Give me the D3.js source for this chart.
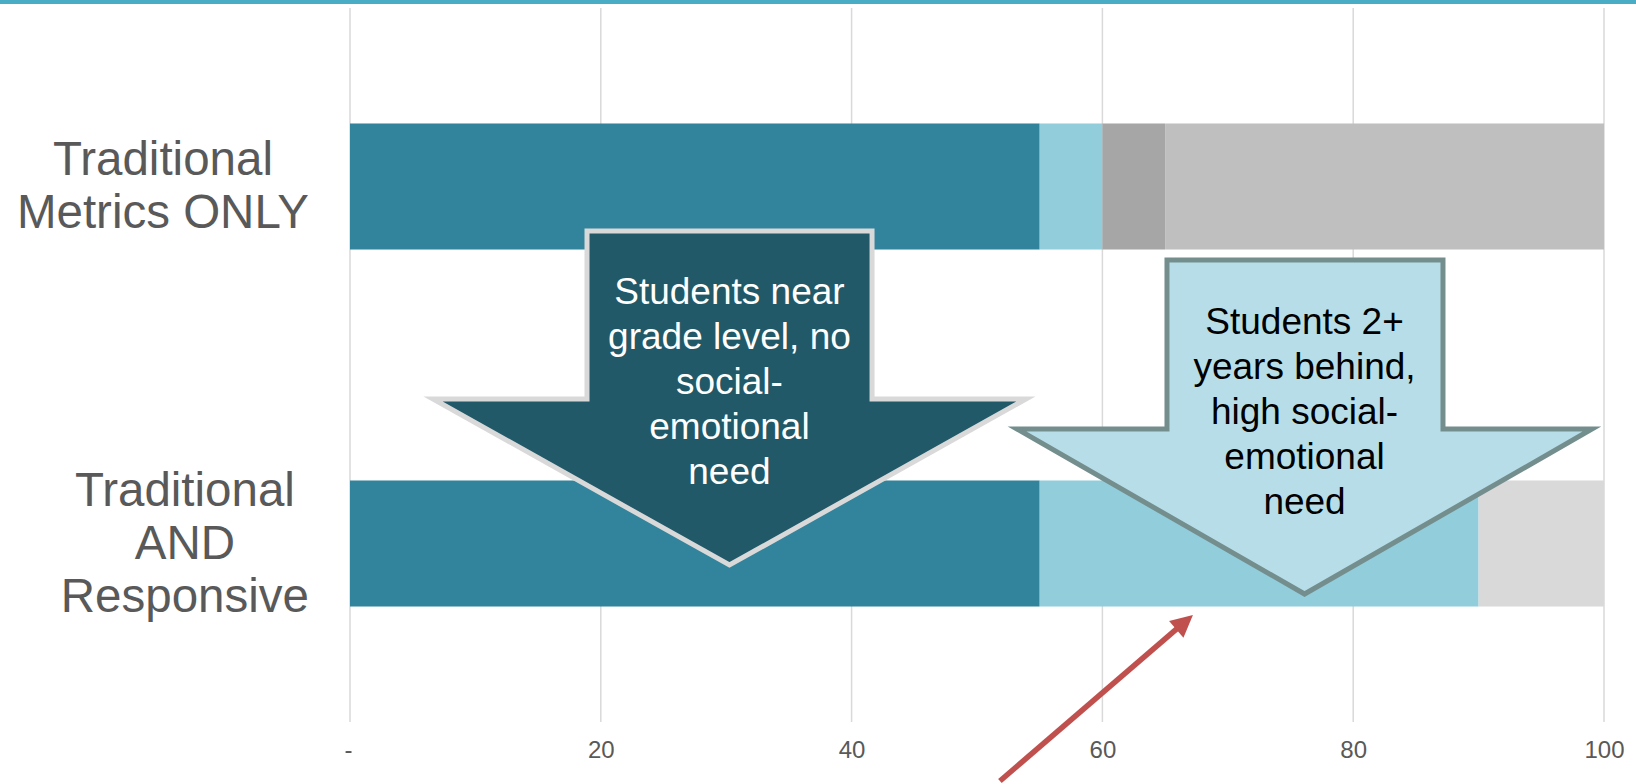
<!DOCTYPE html>
<html>
<head>
<meta charset="utf-8">
<script src="https://cdn.jsdelivr.net/npm/d3@7"></script>
<style>
  html, body { margin: 0; padding: 0; background: #ffffff; }
  svg { display: block; }
  text { font-family: "Liberation Sans", Arial, sans-serif; }
</style>
</head>
<body>
<svg id="chart" width="1636" height="784"></svg>
<script>
// ---- data ----
const categories = ["Traditional Metrics ONLY", "Traditional AND Responsive"];
const categoryLines = [["Traditional", "Metrics ONLY"], ["Traditional", "AND", "Responsive"]];
const seriesKeys = ["nearGrade", "identified", "flagged", "otherA", "otherB"];
const nearGrade  = [55, 55];
const identified = [5, 35];
const flagged    = [5, 0];
const otherA     = [35, 0];
const otherB     = [0, 10];
const seriesColors = ["#31849b", "#92cddc", "#a6a6a6", "#bfbfbf", "#d9d9d9"];
const tickValues = [0, 20, 40, 60, 80, 100];
const tickLabels = ["-", "20", "40", "60", "80", "100"];

const arrowTexts = [
  ["Students near", "grade level, no", "social-", "emotional", "need"],
  ["Students 2+", "years behind,", "high social-", "emotional", "need"]
];

// ---- layout ----
const W = 1636, H = 784;
const plot = { left: 350, right: 1604, top: 8, bottom: 722 };

const svg = d3.select("#chart");
svg.append("rect").attr("width", W).attr("height", H).attr("fill", "#ffffff");
// top accent band
svg.append("rect").attr("x", 0).attr("y", 0).attr("width", W).attr("height", 4).attr("fill", "#4bacc6");

const x = d3.scaleLinear().domain([0, 100]).range([plot.left, plot.right]);
const y = d3.scaleBand().domain(categories).range([plot.top, plot.bottom])
  .paddingInner(0.647).paddingOuter(0.647 / 2);

// gridlines
svg.append("g").selectAll("line").data(tickValues).join("line")
  .attr("x1", d => x(d)).attr("x2", d => x(d))
  .attr("y1", plot.top).attr("y2", plot.bottom)
  .attr("stroke", "#d9d9d9").attr("stroke-width", 1.5);

// stacked bars
const rows = categories.map((c, i) => ({
  cat: c, nearGrade: nearGrade[i], identified: identified[i],
  flagged: flagged[i], otherA: otherA[i], otherB: otherB[i]
}));
const stacked = d3.stack().keys(seriesKeys)(rows);
svg.append("g").selectAll("g").data(stacked).join("g")
  .attr("fill", (d, i) => seriesColors[i])
  .selectAll("rect").data(d => d).join("rect")
  .attr("x", d => x(d[0]))
  .attr("width", d => Math.max(0, x(d[1]) - x(d[0])))
  .attr("y", d => y(d.data.cat))
  .attr("height", y.bandwidth());

// x axis labels
const axis = d3.axisBottom(x).tickValues(tickValues)
  .tickFormat((d, i) => tickLabels[i]).tickSize(0).tickPadding(0);
const gx = svg.append("g").attr("transform", `translate(0,${plot.bottom})`).call(axis);
gx.select(".domain").remove();
gx.selectAll("text")
  .attr("y", 36).attr("dy", null)
  .attr("fill", "#595959").attr("font-size", 24)
  .attr("font-family", "'Liberation Sans', Arial, sans-serif")
  .attr("dx", (d) => d === 0 ? -2 : 0);

// category labels (block right-aligned, lines centred)
const labelFont = 47.5, labelLH = 53, labelRight = 309;
categories.forEach((c, i) => {
  const lines = categoryLines[i];
  const g = svg.append("g");
  const texts = g.selectAll("text").data(lines).join("text")
    .attr("font-size", labelFont).attr("fill", "#595959")
    .attr("text-anchor", "middle").text(d => d);
  let maxW = 0;
  texts.each(function () { maxW = Math.max(maxW, this.getComputedTextLength()); });
  const cx = labelRight - maxW / 2;
  const yc = y(c) + y.bandwidth() / 2 - 2;
  texts.attr("x", cx)
    .attr("y", (d, j) => yc + (j - (lines.length - 1) / 2) * labelLH + 0.358 * labelFont);
});

// block arrows (x in data units, y in px)
const blockArrows = [
  { shaft: [18.9, 41.63], head: [6.62, 53.9], tip: 30.26, top: 231, shoulder: 399, point: 565,
    fill: "#215968", stroke: "#d9d9d9", textColor: "#ffffff", firstBaseline: 303.5, lines: arrowTexts[0] },
  { shaft: [65.15, 87.16], head: [53.19, 99.04], tip: 76.12, top: 260, shoulder: 429, point: 594,
    fill: "#b7dee8", stroke: "#748e8e", textColor: "#000000", firstBaseline: 333.5, lines: arrowTexts[1] }
];
blockArrows.forEach(a => {
  const pts = [
    [x(a.shaft[0]), a.top], [x(a.shaft[1]), a.top], [x(a.shaft[1]), a.shoulder],
    [x(a.head[1]), a.shoulder], [x(a.tip), a.point], [x(a.head[0]), a.shoulder],
    [x(a.shaft[0]), a.shoulder]
  ];
  svg.append("path")
    .attr("d", d3.line()(pts) + "Z")
    .attr("fill", a.fill).attr("stroke", a.stroke).attr("stroke-width", 5)
    .attr("stroke-linejoin", "miter").attr("stroke-miterlimit", 10);
  svg.append("g").selectAll("text").data(a.lines).join("text")
    .attr("x", x(a.tip)).attr("y", (d, j) => a.firstBaseline + j * 45)
    .attr("text-anchor", "middle").attr("font-size", 37).attr("fill", a.textColor)
    .text(d => d);
});

// red pointer arrow
const pointer = { from: [51.83, 781], to: [67.22, 615] };
const p0 = [x(pointer.from[0]), pointer.from[1]];
const p1 = [x(pointer.to[0]), pointer.to[1]];
const dx = p1[0] - p0[0], dy = p1[1] - p0[1];
const len = Math.hypot(dx, dy);
const ux = dx / len, uy = dy / len, nx = -uy, ny = ux;
const headLen = 22, headHalf = 11;
const base = [p1[0] - headLen * ux, p1[1] - headLen * uy];
svg.append("line")
  .attr("x1", p0[0]).attr("y1", p0[1]).attr("x2", base[0] + ux).attr("y2", base[1] + uy)
  .attr("stroke", "#c0504d").attr("stroke-width", 5.5);
svg.append("path")
  .attr("d", d3.line()([p1, [base[0] + headHalf * nx, base[1] + headHalf * ny],
                        [base[0] - headHalf * nx, base[1] - headHalf * ny]]) + "Z")
  .attr("fill", "#c0504d");
</script>
</body>
</html>
